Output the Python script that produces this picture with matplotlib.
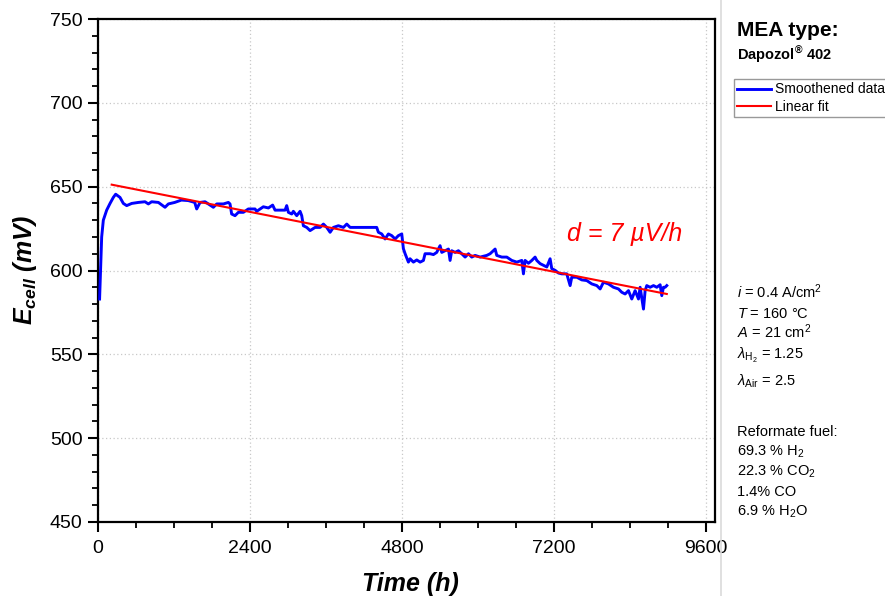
import matplotlib
matplotlib.use("Agg")
import matplotlib.pyplot as plt
from matplotlib.ticker import MultipleLocator
from matplotlib.lines import Line2D

plt.rcParams['font.family'] = ['Liberation Sans', 'DejaVu Sans']
plt.rcParams['mathtext.fontset'] = 'custom'
plt.rcParams['mathtext.rm'] = 'Liberation Sans'
plt.rcParams['mathtext.it'] = 'Liberation Sans:italic'
plt.rcParams['mathtext.bf'] = 'Liberation Sans:bold'
plt.rcParams['mathtext.bfit'] = 'Liberation Sans:bold:italic'

# ---- data ----
time_h = [25, 45, 58, 84, 137, 190, 242, 279, 347, 400, 453, 532, 637, 742, 795, 847,
          953, 1058, 1111, 1211, 1317, 1426, 1527, 1558, 1611, 1690, 1742, 1821, 1874,
          1980, 2058, 2084, 2110, 2163, 2216, 2295, 2373, 2479, 2505, 2610, 2690, 2757,
          2795, 2953, 2979, 3005, 3058, 3084, 3137, 3190, 3216, 3242, 3295, 3348, 3427,
          3506, 3558, 3611, 3664, 3716, 3795, 3874, 3927, 3980, 4400, 4426, 4479, 4532,
          4584, 4637, 4690, 4742, 4795, 4821, 4848, 4900, 4926, 4979, 5032, 5085, 5137,
          5163, 5242, 5295, 5347, 5400, 5427, 5479, 5532, 5558, 5584, 5637, 5690, 5742,
          5795, 5848, 5900, 5953, 6032, 6137, 6190, 6269, 6295, 6374, 6453, 6532, 6611,
          6690, 6716, 6742, 6795, 6848, 6900, 6927, 6979, 7032, 7085, 7137, 7163, 7216,
          7269, 7321, 7400, 7453, 7479, 7558, 7637, 7716, 7795, 7874, 7927, 7979, 8058,
          8137, 8216, 8269, 8321, 8374, 8426, 8479, 8532, 8558, 8611, 8637, 8663, 8716,
          8769, 8821, 8874, 8900, 8926, 8953, 8979]
e_cell = [583, 605, 620, 630, 636, 640, 643.6, 645.5, 643.6, 640, 638.7, 640, 640.6, 641, 639.7, 641,
          640.6, 637.7, 639.7, 640.6, 642, 641.7, 640.6, 636.7, 640.6, 641, 639.7, 637.7, 639.7,
          639.7, 640.6, 639.7, 633.7, 632.7, 634.7, 634.7, 636.7, 636.7, 635.3, 638, 637.3, 639,
          636, 636, 638.7, 634.7, 633.7, 635.3, 632.7, 635.3, 632.7, 626.7, 625.7, 623.8, 625.7,
          625.7, 627.7, 625.7, 622.8, 625.7, 626.7, 625.7, 627.7, 625.7, 625.7, 622.8, 621.8, 618.8,
          621.8, 620.8, 618.8, 620.8, 621.8, 613, 610, 605, 607, 605, 606.3, 605, 606,
          610, 610, 609.5, 610.8, 614.8, 610.8, 611.8, 612.8, 606, 611.8, 610.8, 611.8, 610,
          608, 610, 608, 609, 608, 609, 610, 612.8, 609, 608, 608, 606, 605,
          606, 598, 606, 604.3, 606, 608, 606, 604.1, 603.1, 602.1, 607, 601.1, 600.1,
          598.5, 598, 598, 591, 596, 596, 594.4, 594, 592, 591, 589, 593, 592,
          590, 589, 587, 586, 588, 583, 588, 583, 590, 577, 588, 591, 590,
          591, 590, 591.5, 585, 590, 590, 591]

fit_time = [216, 8979]
fit_e = [651.2, 586.0]

W, H = 885, 596
fig = plt.figure(figsize=(W / 100, H / 100), dpi=100)
ax = fig.add_axes([98 / W, 1 - 522 / H, (715 - 98) / W, (522 - 19) / H])

ax.plot(time_h, e_cell, color='#0000ff', lw=2.1, label='Smoothened data', zorder=3)
ax.plot(fit_time, fit_e, color='#ff0000', lw=1.5, label='Linear fit', zorder=4)

ax.set_xlim(0, 9740)
ax.set_ylim(450, 750)
ax.xaxis.set_major_locator(MultipleLocator(2400))
ax.xaxis.set_minor_locator(MultipleLocator(600))
ax.yaxis.set_major_locator(MultipleLocator(50))
ax.yaxis.set_minor_locator(MultipleLocator(10))
ax.grid(True, which='major', color='#c8c8c8', linestyle=(0, (1, 2)), lw=0.9)
ax.set_axisbelow(True)
for s in ax.spines.values():
    s.set_linewidth(1.6)
ax.tick_params(which='major', direction='out', length=7, width=1.5, labelsize=14)
ax.tick_params(which='minor', direction='out', length=4, width=1.3)
ax.tick_params(axis='y', which='major', pad=4)
ax.tick_params(axis='x', which='major', pad=6)

ax.text(7400, 617.5, 'd = 7 µV/h', color='#ff0000', style='italic', fontsize=18,
        va='baseline', ha='left')

fig.text(25 / W, 1 - 270 / H, r'$\mathbfit{E}_{\mathbfit{cell}}$ (mV)', rotation=90,
         fontsize=18, weight='bold', style='italic', ha='center', va='center')
fig.text(410 / W, 1 - 591 / H, 'Time (h)', fontsize=18, weight='bold', style='italic',
         ha='center', va='baseline')

fig.add_artist(Line2D([720.5 / W] * 2, [0, 1], color='#dadada', lw=1.2))

fig.text(737 / W, 1 - 36 / H, 'MEA type:', fontsize=15, weight='bold', va='baseline')
fig.text(737 / W, 1 - 60 / H, r'Dapozol$^{\mathbf{®}}$ 402', fontsize=10.5, weight='bold',
         va='baseline')

leg = ax.legend(loc='upper left', bbox_to_anchor=(734 / W, 1 - 79 / H),
                bbox_transform=fig.transFigure, frameon=True, fancybox=False,
                edgecolor='#808080', fontsize=10, handlelength=2.4, borderpad=0.25,
                labelspacing=0.25, handletextpad=0.3, borderaxespad=0)
leg.get_frame().set_linewidth(1.0)

params = [
    (298, r'$\mathit{i}$ = 0.4 A/cm$^2$'),
    (318, r'$\mathit{T}$ = 160 °C'),
    (338, r'$\mathit{A}$ = 21 cm$^2$'),
    (359, r'$\mathit{\lambda}_{\mathrm{H_2}}$ = 1.25'),
    (386, r'$\mathit{\lambda}_{\mathrm{Air}}$ = 2.5'),
    (436, 'Reformate fuel:'),
    (456, r'69.3 % H$_2$'),
    (476, r'22.3 % CO$_2$'),
    (496, '1.4% CO'),
    (516, r'6.9 % H$_2$O'),
]
for y, s in params:
    fig.text(737 / W, 1 - y / H, s, fontsize=10.5, va='baseline')

fig.savefig('out.png', dpi=100)
